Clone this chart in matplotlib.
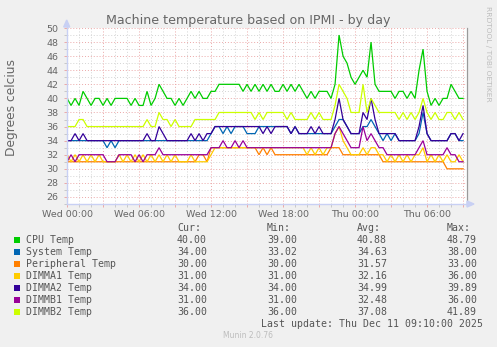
import matplotlib
matplotlib.use('Agg')
import matplotlib.pyplot as plt
from matplotlib.patches import Rectangle, Polygon
from matplotlib.lines import Line2D
from matplotlib.ticker import MultipleLocator, FuncFormatter
import numpy as np

W, H = 497, 347

# samples every 20 minutes, hours since Wed 00:00
hours = np.arange(100) / 3.0

cpu = [40, 39, 40, 39, 41, 40, 39, 40, 40, 39,
       40, 39, 40, 40, 40, 40, 39, 40, 39, 39,
       41, 39, 40, 42, 41, 40, 40, 39, 40, 39,
       40, 41, 40, 41, 40, 40, 41, 41, 42, 42,
       42, 42, 42, 42, 41, 42, 41, 42, 41, 42,
       41, 42, 41, 41, 42, 41, 42, 41, 42, 41,
       40, 41, 40, 41, 41, 41, 40, 42, 49, 46,
       45, 43, 42, 43, 44, 43, 48, 42, 41, 41,
       41, 41, 40, 41, 41, 40, 41, 40, 44, 47,
       41, 39, 40, 39, 40, 40, 42, 41, 40, 40]

system = [34, 34, 34, 34, 34, 34, 34, 34, 34, 34,
          33, 34, 33, 34, 34, 34, 34, 34, 34, 34,
          34, 34, 34, 34, 34, 34, 34, 34, 34, 34,
          34, 34, 34, 34, 34, 34, 35, 36, 36, 35,
          36, 35, 36, 36, 36, 35, 35, 35, 36, 36,
          36, 36, 36, 36, 36, 36, 35, 36, 35, 35,
          35, 35, 35, 35, 35, 35, 35, 36, 37, 37,
          36, 35, 35, 35, 36, 36, 37, 36, 35, 34,
          35, 34, 35, 34, 34, 34, 34, 34, 35, 38,
          35, 34, 34, 34, 34, 34, 35, 35, 34, 34]

peripheral = [31, 31, 31, 31, 31, 31, 31, 31, 31, 31,
              31, 31, 31, 31, 31, 31, 31, 31, 31, 31,
              31, 31, 31, 31, 31, 31, 31, 31, 31, 31,
              31, 31, 31, 32, 32, 31, 33, 33, 33, 33,
              33, 33, 33, 33, 33, 33, 33, 33, 32, 33,
              32, 33, 32, 32, 32, 32, 32, 32, 32, 32,
              32, 32, 32, 32, 32, 32, 33, 33, 33, 32,
              32, 32, 32, 32, 32, 32, 32, 32, 32, 31,
              31, 31, 31, 31, 31, 31, 31, 31, 31, 31,
              31, 31, 31, 31, 31, 30, 30, 30, 30, 30]

dimma1 = [32, 31, 32, 31, 32, 31, 32, 31, 32, 31,
          31, 31, 31, 32, 31, 32, 31, 32, 31, 32,
          31, 32, 31, 32, 31, 32, 31, 32, 31, 31,
          31, 32, 31, 31, 31, 31, 32, 33, 33, 33,
          33, 33, 33, 33, 33, 33, 33, 33, 33, 33,
          33, 33, 33, 33, 33, 33, 33, 33, 33, 33,
          32, 33, 32, 33, 32, 33, 33, 35, 36, 34,
          33, 32, 32, 32, 33, 32, 33, 33, 32, 32,
          31, 32, 31, 32, 31, 32, 31, 32, 32, 33,
          31, 32, 31, 32, 31, 32, 31, 31, 32, 31]

dimma2 = [34, 34, 35, 34, 35, 34, 34, 34, 34, 34,
          34, 34, 34, 34, 34, 34, 34, 34, 34, 34,
          35, 34, 34, 36, 35, 34, 34, 34, 34, 34,
          34, 35, 34, 35, 34, 35, 35, 36, 36, 36,
          36, 36, 36, 36, 36, 36, 36, 36, 36, 35,
          36, 35, 36, 36, 36, 36, 35, 36, 35, 35,
          35, 36, 35, 36, 35, 35, 35, 37, 40, 37,
          36, 35, 35, 35, 38, 37, 40, 37, 35, 35,
          35, 35, 35, 34, 34, 34, 34, 34, 36, 39,
          35, 34, 34, 34, 34, 34, 35, 35, 34, 35]

dimmb1 = [31, 32, 31, 32, 32, 32, 32, 32, 32, 32,
          31, 31, 31, 32, 32, 32, 32, 31, 32, 31,
          32, 32, 32, 33, 32, 32, 32, 32, 32, 32,
          32, 32, 32, 32, 32, 32, 33, 33, 33, 34,
          33, 33, 34, 33, 34, 33, 33, 33, 33, 33,
          33, 33, 33, 33, 33, 33, 33, 33, 33, 33,
          33, 33, 33, 33, 33, 33, 33, 35, 36, 35,
          34, 33, 33, 33, 36, 34, 35, 34, 33, 33,
          32, 32, 32, 32, 32, 32, 32, 32, 33, 34,
          32, 32, 32, 32, 32, 33, 32, 32, 31, 31]

dimmb2 = [36, 36, 36, 37, 37, 36, 36, 36, 36, 36,
          36, 36, 36, 36, 36, 36, 36, 36, 36, 36,
          37, 36, 36, 38, 37, 37, 36, 37, 36, 36,
          36, 36, 37, 37, 37, 37, 37, 37, 38, 38,
          38, 38, 38, 38, 38, 38, 38, 37, 38, 37,
          38, 38, 38, 38, 38, 37, 38, 37, 37, 37,
          37, 38, 37, 38, 37, 37, 37, 39, 42, 41,
          40, 38, 38, 38, 42, 38, 40, 39, 38, 38,
          38, 38, 38, 37, 38, 37, 38, 37, 38, 40,
          38, 37, 38, 37, 37, 38, 38, 37, 38, 37]

names = ['CPU Temp', 'System Temp', 'Peripheral Temp', 'DIMMA1 Temp',
         'DIMMA2 Temp', 'DIMMB1 Temp', 'DIMMB2 Temp']
colors = ['#00CC00', '#0066B3', '#FF8000', '#FFCC00', '#330099', '#990099', '#CCFF00']
series = [cpu, system, peripheral, dimma1, dimma2, dimmb1, dimmb2]

cur = [40.00, 34.00, 30.00, 31.00, 34.00, 31.00, 36.00]
vmin = [39.00, 33.02, 30.00, 31.00, 34.00, 31.00, 36.00]
vavg = [40.88, 34.63, 31.57, 32.16, 34.99, 32.48, 37.08]
vmax = [48.79, 38.00, 33.00, 36.00, 39.89, 36.00, 41.89]

tick_hours = [0, 6, 12, 18, 24, 30]
tick_labels = ['Wed 00:00', 'Wed 06:00', 'Wed 12:00', 'Wed 18:00', 'Thu 00:00', 'Thu 06:00']

FONT = '#666666'
AXIS = '#C8D0F4'


def fx(x):
    return x / W


def fy(y):
    return 1 - y / H


fig = plt.figure(figsize=(W / 100, H / 100), dpi=100, facecolor='#F0F0F0')
ax = fig.add_axes([fx(66.7), fy(204), fx(467) - fx(66.7), fy(28) - fy(204)])
ax.set_facecolor('white')

for vals, c in zip(series, colors):
    ax.plot(hours, vals, color=c, lw=0.9, zorder=3, solid_joinstyle='miter')

ax.set_xlim(-0.03, 33.33)
ax.set_ylim(25, 50)

ax.xaxis.set_major_locator(MultipleLocator(3))
ax.xaxis.set_minor_locator(MultipleLocator(1))
lab = dict(zip(tick_hours, tick_labels))
ax.xaxis.set_major_formatter(FuncFormatter(lambda v, p: lab.get(int(round(v)), '')))
ax.yaxis.set_major_locator(MultipleLocator(2))
ax.yaxis.set_minor_locator(MultipleLocator(1))
ax.yaxis.set_major_formatter(FuncFormatter(lambda v, p: '%d' % v if v >= 26 else ''))

ax.grid(which='major', color='#EBA8A8', ls=(0, (1, 2)), lw=0.7, zorder=1)
ax.grid(which='minor', color='#D4D4D4', ls=(0, (1, 2)), lw=0.7, zorder=1)

ax.tick_params(which='major', length=2, width=0.7, color='#EBA8A8', labelsize=6.8,
               labelcolor=FONT, pad=2)
ax.tick_params(which='minor', length=2, width=0.7, color='#C8C8C8')
ax.tick_params(axis='y', pad=4)

for s in ['top', 'left', 'bottom']:
    ax.spines[s].set_visible(False)
ax.spines['right'].set_color('#9A9A9A')
ax.spines['right'].set_linewidth(0.9)

# rrdtool style axes with arrows
fig.add_artist(Line2D([fx(66.7), fx(66.7)], [fy(204), fy(24)], color=AXIS, lw=1.0))
fig.add_artist(Line2D([fx(66.7), fx(470)], [fy(204), fy(204)], color=AXIS, lw=1.0))
fig.add_artist(Polygon([[fx(63.7), fy(27)], [fx(69.7), fy(27)], [fx(66.7), fy(20)]],
                       closed=True, color=AXIS, transform=fig.transFigure))
fig.add_artist(Polygon([[fx(467), fy(201)], [fx(467), fy(207)], [fx(474), fy(204)]],
                       closed=True, color=AXIS, transform=fig.transFigure))

fig.text(fx(248), fy(24), 'Machine temperature based on IPMI - by day',
         ha='center', va='baseline', fontsize=9.1, color=FONT)
fig.text(fx(12), fy(107), 'Degrees celcius', rotation=90, ha='center', va='center',
         fontsize=8.8, color=FONT)
fig.text(fx(488), fy(54), 'RRDTOOL / TOBI OETIKER', rotation=270, ha='center', va='center',
         fontsize=5.4, color='#BDBDBD')

# legend table
mono = 'DejaVu Sans Mono'
cols = [177, 267, 357, 447]
for xc, head in zip(cols, ['Cur:', 'Min:', 'Avg:', 'Max:']):
    fig.text(fx(xc), fy(228), head, ha='left', va='center', fontsize=7.1,
             family=mono, color='#555555')
for k, name in enumerate(names):
    yc = 240 + 12 * k
    fig.add_artist(Rectangle((fx(14), fy(yc + 3)), 6 / W, 6 / H, facecolor=colors[k],
                             edgecolor='none', transform=fig.transFigure))
    fig.text(fx(26), fy(yc), name, ha='left', va='center', fontsize=7.1,
             family=mono, color='#555555')
    for xc, v in zip(cols, [cur[k], vmin[k], vavg[k], vmax[k]]):
        fig.text(fx(xc), fy(yc), '%.2f' % v, ha='left', va='center', fontsize=7.1,
                 family=mono, color='#555555')

fig.text(fx(483), fy(324), 'Last update: Thu Dec 11 09:10:00 2025', ha='right',
         va='center', fontsize=7.1, family=mono, color='#555555')
fig.text(fx(248), fy(336), 'Munin 2.0.76', ha='center', va='center', fontsize=5.5,
         color='#BDBDBD')

fig.savefig('out.png', dpi=100, facecolor=fig.get_facecolor())
plt.close()
